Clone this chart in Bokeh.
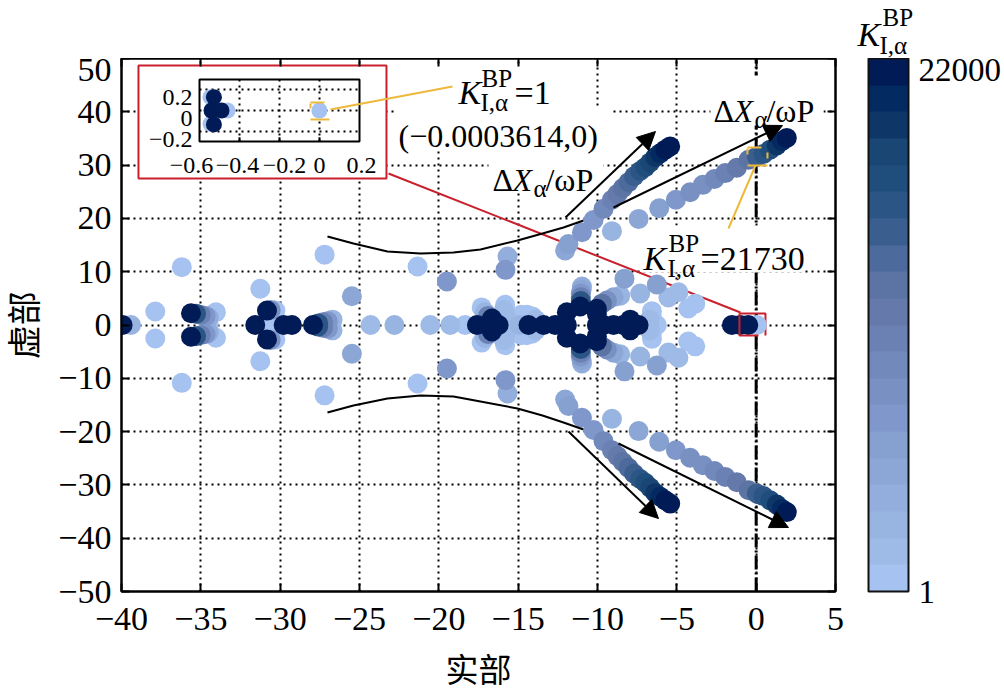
import math
from bokeh.embed import file_html
from bokeh.resources import INLINE
from bokeh.plotting import figure
from bokeh.layouts import column, row
from bokeh.models import (Range1d, LinearColorMapper, ColorBar, FixedTicker, ColumnDataSource, Label,
                          Arrow, NormalHead, LinearAxis)

x_ticks = [-40, -35, -30, -25, -20, -15, -10, -5, 0, 5]
y_ticks = [-50, -40, -30, -20, -10, 0, 10, 20, 30, 40, 50]
cbar_ticks = [1, 22000]
palette = ["#A6C2F0", "#9EBAE6", "#98B4E0", "#93AEDD", "#8CA7D6", "#86A0D0", "#7F97CA", "#7890C2", "#7289BC", "#6B81B3",
           "#6579AB", "#5B74A3", "#4C6A9C", "#3A5F8F", "#2B5585", "#204E7C", "#1A4674", "#0E3768", "#042A62", "#011B56"]

# complex pairs: upper half, lower half is the conjugate
pair_re = [1.93, 1.62, 1.30, 0.88, 0.46, 0.04, -0.48, -1.22, -1.95, -2.63, -3.36, -4.16, -5.06, -6.11, -7.41, -9.09,
           -5.42, -5.73, -6.05, -6.36, -6.68, -6.99, -7.31, -7.69, -8.04, -8.40, -8.74, -9.09, -9.62, -10.25, -10.98, -11.83, -12.04,
           -15.67, -15.80, -8.30, -6.26, -7.31, -4.90, -5.53, -3.84, -4.28,
           -36.2, -37.87, -35.62, -35.3, -35.0, -34.7, -34.5, -34.05, -31.25, -30.83, -30.6, -30.3,
           -27.6, -27.3, -27.0, -26.7, -25.48, -27.2, -21.34, -19.49,
           -17.3, -17.1, -16.9, -16.65, -15.82, -15.9, -15.8, -15.3, -14.8, -14.45, -14.1, -13.9,
           -10.98, -11.0, -11.05, -11.05, -11.05, -11.09, -8.57, -8.99, -9.41, -9.72, -10.04, -10.04, -11.93,
           -7.94, -6.57, -6.57, -6.7]
pair_im = [35.1, 34.5, 33.7, 32.9, 32.1, 31.6, 31.0, 29.5, 28.5, 27.4, 26.3, 24.9, 23.5, 21.9, 19.9, 17.6,
           33.5, 32.9, 32.2, 31.5, 30.5, 29.6, 28.9, 27.9, 26.8, 25.7, 24.6, 23.5, 21.8, 19.7, 17.4, 15.2, 14.0,
           12.85, 10.35, 8.7, 7.6, 5.9, 6.15, 5.15, 4.0, 3.1,
           10.85, 2.53, 2.2, 2.1, 1.9, 1.7, 1.4, 2.4, 6.8, 2.7, 2.8, 2.7,
           0.3, 0.5, 0.7, 1.0, 5.4, 13.2, 10.97, 8.16,
           3.3, 2.4, 1.7, 1.2, 3.8, 2.8, 1.8, 1.5, 1.9, 1.9, 1.6, 1.0,
           7.2, 6.6, 5.9, 5.2, 4.5, 3.47, 5.5, 5.2, 4.6, 4.0, 3.04, 2.1, 2.4,
           1.0, 2.6, 1.5, 1.0]
pair_k = [22000, 20500, 19000, 17500, 16000, 14500, 13000, 11500, 10500, 9500, 8800, 8000, 7000, 6000, 5000, 3000,
          22000, 21000, 20000, 19000, 18000, 17000, 16000, 15000, 14000, 13000, 12000, 11000, 9500, 7500, 7000, 6500, 5500,
          3500, 7000, 6000, 6000, 2500, 1500, 1500, 1000, 1000,
          1, 1000, 22000, 16000, 11000, 7000, 3500, 1, 1, 22000, 8000, 1,
          16000, 11000, 7000, 3000, 4500, 1, 1, 7000,
          1, 3000, 10000, 22000, 1, 2000, 2000, 1, 1, 1, 1, 2000,
          3500, 4500, 7000, 11000, 16000, 22000, 2500, 4500, 8000, 13000, 22000, 22000, 22000,
          22000, 1, 1, 2000]

# real poles
real_re = [-39.93, -39.4, -34.5, -31.57, -30.5, -29.78, -29.26, -27.93, -24.3, -22.8, -20.54, -19.28, -18.34,
           -17.6, -16.97, -16.65, -16.23, -15.4, -14.9, -14.35, -13.4, -12.67, -11.93, -10.04, -9.62, -8.99, -8.37, -7.94, -7.41,
           -6.26, -1.53, -1.0, -0.5, 0.05]
real_k = [22000, 3000, 1000, 22000, 1, 22000, 22000, 22000, 1500, 2500, 1500, 1500, 1,
          22000, 22000, 22000, 22000, 1, 3000, 22000, 22000, 22000, 22000, 22000, 22000, 22000, 22000, 22000, 22000,
          1, 22000, 22000, 22000, 1]

# inset
inset_re = [-0.545, -0.545, -0.46, -0.528, -0.528, -0.54, -0.49, -0.0003614]
inset_im = [0.127, -0.127, 0.0, 0.127, -0.133, 0.0, 0.0, 0.0]
inset_k = [1, 1, 1, 22000, 22000, 22000, 22000, 1]
inset_xticks = [-0.6, -0.4, -0.2, 0.0, 0.2]
inset_xlabels = ["−0.6", "−0.4", "−0.2", "0", "0.2"]
inset_xshift = [-0.04, -0.01, 0.025, 0.0, 0.01]
inset_yticks = [-0.2, 0.0, 0.2]
inset_ylabels = ["−0.2", "0", "0.2"]

X0, PXX = 755.7, 15.867
Y0, PXY = 324.5, 5.33
def dx(px): return (px - X0) / PXX
def dy(py): return (Y0 - py) / PXY

FONT = "Liberation Serif"
YEL = "#EDB93C"
RED = "#C8202C"
HEAD_H = 58
STRIP_W = 44

p = figure(frame_width=714, frame_height=533, min_border_left=121 - STRIP_W, min_border_top=0, min_border_bottom=90, min_border_right=0,
           x_range=Range1d(-40, 5), y_range=Range1d(-50, 50), output_backend="svg", toolbar_location=None,
           background_fill_color="white", border_fill_color="white", outline_line_color="black", outline_line_width=2)

xlab = {t: str(t).replace("-", "−") for t in x_ticks}
ylab = {t: str(t).replace("-", "−") for t in y_ticks}
for ax, tk, lab in ((p.xaxis[0], x_ticks, xlab), (p.yaxis[0], y_ticks, ylab)):
    ax.ticker = FixedTicker(ticks=tk)
    ax.major_label_overrides = lab
    ax.major_label_text_font = FONT
    ax.major_label_text_font_size = "34px"
    ax.major_label_text_color = "black"
    ax.major_tick_in = 8
    ax.major_tick_out = 0
    ax.minor_tick_in = 0
    ax.minor_tick_out = 0
    ax.axis_line_width = 2
    ax.major_tick_line_width = 2
p.yaxis[0].major_label_standoff = 10
p.xaxis[0].major_label_standoff = 16
p.xaxis[0].axis_label = "实部"
p.xaxis[0].axis_label_text_font = "Noto Sans CJK SC"
p.xaxis[0].axis_label_text_font_size = "33px"
p.xaxis[0].axis_label_text_font_style = "normal"
p.xaxis[0].axis_label_text_color = "black"
p.xaxis[0].axis_label_standoff = 11

for side, tk in (("above", x_ticks), ("right", y_ticks)):
    a = LinearAxis(ticker=FixedTicker(ticks=tk), major_label_overrides={t: "" for t in tk}, major_tick_in=8, major_tick_out=0,
                   minor_tick_in=0, minor_tick_out=0, axis_line_width=2, major_tick_line_width=2, major_label_standoff=0)
    p.add_layout(a, side)

for g, tk in ((p.xgrid[0], x_ticks), (p.ygrid[0], y_ticks)):
    g.ticker = FixedTicker(ticks=tk)
    g.grid_line_color = "black"
    g.grid_line_dash = "2 4"
    g.grid_line_width = 2

# imaginary axis
p.line([0, 0], [-50, 50], line_color="black", line_width=3, line_dash="14 3 2 3")

# white boxes behind the texts
masks = [(435, 555, 66, 108), (395, 612, 108, 150), (488, 603, 150, 190), (710, 823, 75, 125), (640, 803, 225, 272)]
p.quad(left=[dx(m[0]) for m in masks], right=[dx(m[1]) for m in masks], top=[dy(m[2]) for m in masks],
       bottom=[dy(m[3]) for m in masks], fill_color="white", line_color=None)

# red zoom rectangle (under the poles) and leader
p.line([dx(739), dx(765), dx(765)], [dy(313), dy(313), dy(335)], line_color=RED, line_width=2)
p.line([dx(388), dx(740)], [dy(173), dy(312)], line_color=RED, line_width=2)

mapper = LinearColorMapper(palette=palette, low=1, high=22000)
allp = [(pair_k[i], pair_re[i], pair_im[i]) for i in range(len(pair_re))] + \
       [(pair_k[i], pair_re[i], -pair_im[i]) for i in range(len(pair_re))] + \
       [(real_k[i], real_re[i], 0.0) for i in range(len(real_re))]
allp.sort(key=lambda t: t[0])
src = ColumnDataSource(dict(x=[t[1] for t in allp], y=[t[2] for t in allp], k=[t[0] for t in allp]))
p.scatter("x", "y", source=src, size=20, fill_color={"field": "k", "transform": mapper}, line_color=None)

# red rectangle left+bottom over the poles
p.line([dx(739), dx(739), dx(758)], [dy(313), dy(335), dy(335)], line_color=RED, line_width=2)

# curves
cu_x = [327, 353, 387, 420, 453, 480, 517, 542, 563, 583]
cu_y = [236, 243, 251, 253, 252, 249, 240, 233, 227, 220]
p.line([dx(v) for v in cu_x], [dy(v) for v in cu_y], line_color="black", line_width=2)
cl_y = [412, 405, 398, 395, 396, 401, 408, 415, 422, 429]
p.line([dx(v) for v in cu_x], [dy(v) for v in cl_y], line_color="black", line_width=2)
for a0, b0, a1, b1 in ((565, 217, 655, 131), (613, 207, 782, 125), (568, 431, 658, 518), (618, 443, 788, 527)):
    p.add_layout(Arrow(end=NormalHead(size=18, fill_color="black", line_color="black"), x_start=dx(a0), y_start=dy(b0),
                       x_end=dx(a1), y_end=dy(b1), line_color="black", line_width=2))

# yellow marks
p.line([dx(755), dx(728)], [dy(165), dy(228)], line_color=YEL, line_width=2)
p.multi_line([[dx(747), dx(761)], [dx(747), dx(767)], [dx(747), dx(747)], [dx(767), dx(767)]],
             [[dy(147), dy(147)], [dy(165), dy(165)], [dy(148), dy(154)], [dy(152), dy(158)]], line_color=YEL, line_width=2)

# inset box
p.quad(left=[dx(138)], right=[dx(386)], top=[dy(65)], bottom=[dy(178)], fill_color="white", line_color=RED, line_width=2)

# inset, with its own scales
IX = 200.0; IY = 105.0
p.extra_x_ranges["ix"] = Range1d(-0.6 - (199 - 121) / IX, -0.6 + (835 - 199) / IX)
p.extra_y_ranges["iy"] = Range1d(-(591 - 110) / IY, (110 - 58) / IY)
ik = dict(x_range_name="ix", y_range_name="iy")
ileft, iright, itop, ibot = -0.6, 0.2 , (110 - 79) / IY, -(141 - 110) / IY
p.segment(inset_xticks[1:4], [ibot] * 3, inset_xticks[1:4], [itop] * 3, line_color="black", line_width=2, line_dash="2 4", **ik)
p.segment([ileft] * 3, inset_yticks, [iright] * 3, inset_yticks, line_color="black", line_width=2, line_dash="2 4", **ik)
isrc = ColumnDataSource(dict(x=inset_re, y=inset_im, k=inset_k))
p.scatter("x", "y", source=isrc, size=16, fill_color={"field": "k", "transform": mapper}, line_color=None, **ik)
p.quad(left=[ileft], right=[iright], top=[itop], bottom=[ibot], fill_color=None, line_color="black", line_width=2, **ik)
for t in inset_xticks[1:4]:
    p.segment([t], [ibot], [t], [ibot + 0.04], line_color="black", line_width=2, **ik)
p.line([dx(330), dx(452)], [dy(109), dy(86)], line_color=YEL, line_width=2)
p.multi_line([[dx(310), dx(324)], [dx(310), dx(329)], [dx(310), dx(310)]], [[dy(102), dy(102)], [dy(119), dy(119)], [dy(103), dy(108)]],
             line_color=YEL, line_width=2)

def T(px, py, text, size=32, style="normal", align="left"):
    p.add_layout(Label(x=dx(px), y=dy(py), text=text, text_font=FONT, text_font_size=f"{size}px", text_font_style=style,
                       text_align=align, text_baseline="alphabetic", text_color="black"))

for t, s, o in zip(inset_xticks, inset_xlabels, inset_xshift):
    p.add_layout(Label(x=t + o, y=-(165 - 110) / IY, text=s, text_font=FONT, text_font_size="24px", text_align="center",
                       text_baseline="alphabetic", text_color="black", **ik))
for t, s in zip(inset_yticks, inset_ylabels):
    p.add_layout(Label(x=-0.635, y=t - 8 / IY, text=s, text_font=FONT, text_font_size="24px", text_align="right",
                       text_baseline="alphabetic", text_color="black", **ik))

def K(kx, base, supx, supb, subx, subb):
    T(kx, base, "K", 34, "italic")
    T(supx, supb, "BP", 25)
    T(subx, subb, "I,α", 25)

K(458, 92, 481, 78, 480, 102)
T(514, 92, "=1", 34)
T(398, 135, "(−0.0003614,0)")
K(643, 258, 668, 243, 667, 268)
T(700, 258, "=21730", 34)

def DX(x, base):
    T(x, base, "Δ")
    T(x + 20, base, "X", 32, "italic")
    T(x + 41, base + 9, "α", 25)
    T(x + 53, base, "/ωP")
DX(492, 179)
DX(713, 110)

cb = ColorBar(color_mapper=mapper, ticker=FixedTicker(ticks=cbar_ticks), major_label_overrides={1: "1", 22000: "22000"},
              width=40, height=533, location=(33, 0), padding=0, major_tick_line_color=None, minor_tick_line_color=None,
              bar_line_color="#111111", bar_line_width=2, major_label_text_font=FONT, major_label_text_font_size="33px",
              major_label_text_color="black", label_standoff=10, margin=0, background_fill_color=None, border_line_color=None)
p.add_layout(cb, "right")

# header strip: colour bar title above the plot
head = figure(width=1004, height=HEAD_H, x_range=Range1d(0, 1004), y_range=Range1d(HEAD_H, 0), min_border=0, output_backend="svg",
              toolbar_location=None, x_axis_location=None, y_axis_location=None, outline_line_color=None)
head.grid.visible = False
for px, py, s, size, style in ((857, 34, "K", 34, "italic"), (882, 17, "BP", 25, "normal"), (879, 45, "I,α", 25, "normal")):
    head.add_layout(Label(x=px, y=py, text=s, text_font=FONT, text_font_size=f"{size}px", text_font_style=style,
                          text_baseline="alphabetic", text_color="black"))

# left strip: y axis title
strip = figure(width=STRIP_W, height=600, x_range=Range1d(0, STRIP_W), y_range=Range1d(600, 0), min_border=0, output_backend="svg",
               toolbar_location=None, x_axis_location=None, y_axis_location=None, outline_line_color=None)
strip.grid.visible = False
strip.add_layout(Label(x=22, y=322, text="虚部", text_font="Noto Sans CJK SC", text_font_size="34px", angle=math.pi / 2,
                       text_align="center", text_baseline="middle", text_color="black"))

page = column(head, row(strip, p, spacing=0), spacing=0)
open("out.html", "w").write(file_html(page, INLINE))
